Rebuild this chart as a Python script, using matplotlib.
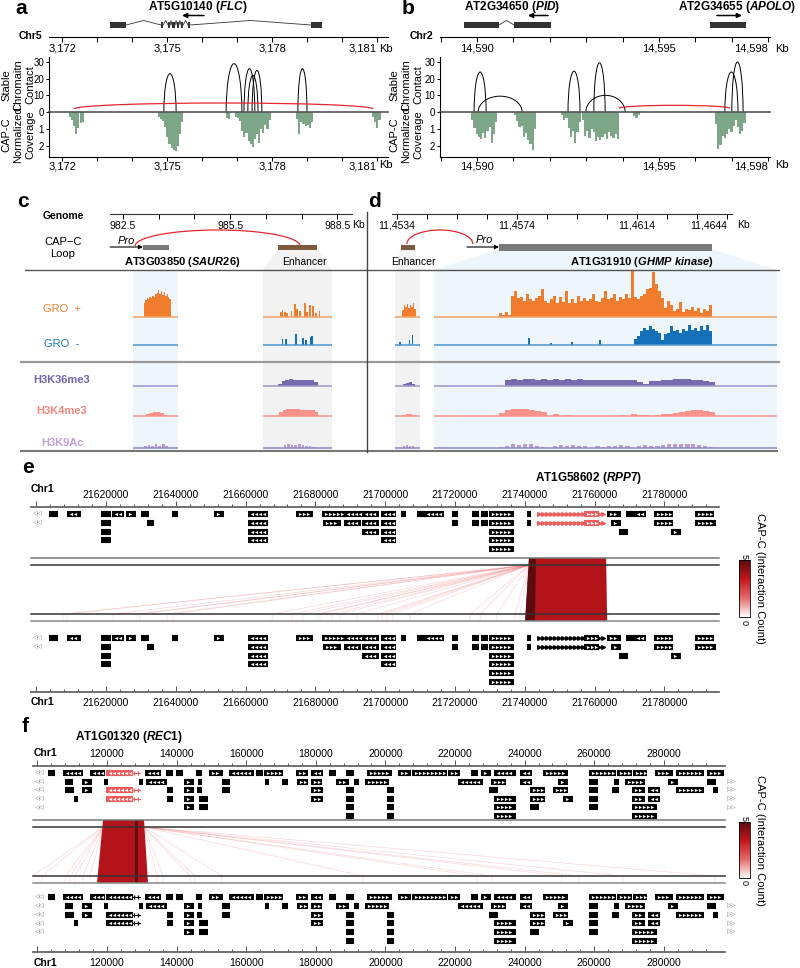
import numpy as np
import matplotlib
matplotlib.use("Agg")
import matplotlib.pyplot as plt
from matplotlib.patches import Arc, Rectangle, Polygon
from matplotlib.colors import LinearSegmentedColormap, Normalize
from matplotlib.cm import ScalarMappable

plt.rcParams['font.family'] = ['Liberation Sans', 'DejaVu Sans']
plt.rcParams['mathtext.fontset'] = 'custom'
plt.rcParams['mathtext.it'] = 'Liberation Sans:italic:bold'
plt.rcParams['mathtext.rm'] = 'Liberation Sans:bold'

# ------------------------------------------------------------------ data
# panel a : FLC locus, Chr5 (kb)
a_ticks = [3172, 3173, 3174, 3175, 3176, 3177, 3178, 3179, 3180, 3181]
a_labels = {3172: '3,172', 3175: '3,175', 3178: '3,178', 3181: '3,181'}
a_exons = [[(3173.37, 3173.83), (3174.83, 3174.89), (3175.03, 3175.09), (3175.14, 3175.23),
            (3175.29, 3175.34), (3175.40, 3175.46), (3175.60, 3175.66), (3179.11, 3179.43)]]
a_arrows = [(3176.06, 3175.43)]
a_arcs = [(3174.91, 3175.26, 23), (3176.69, 3177.14, 29), (3177.20, 3177.51, 26),
          (3177.31, 3177.60, 22), (3177.43, 3177.71, 25), (3178.74, 3179.00, 26)]
a_loop = (3172.34, 3180.89, 1.8, 3.6)
a_cov = [(3172.20, [0.3, 0.45, 0.8, 1.3, 0.95, 0.65, 0.6]),
         (3174.74, [0.3, 0.4, 0.55, 0.9, 1.5, 1.9, 2.1, 2.25, 2.3, 2.0, 1.3, 0.6]),
         (3176.69, [0.35, 0.4]),
         (3176.94, [0.3, 0.35, 0.55, 1.1, 1.45, 1.25, 1.7, 1.9, 2.05, 1.6, 1.3, 1.85, 1.0, 1.25, 0.75, 1.0, 0.5]),
         (3178.69, [0.4, 1.3, 0.6, 0.7, 0.8, 0.75, 0.95, 0.6]),
         (3180.86, [0.3, 0.6, 0.95, 0.45])]

# panel b : PID / APOLO, Chr2 (kb)
b_ticks = [14589, 14590, 14591, 14592, 14593, 14594, 14595, 14596, 14597, 14598]
b_labels = {14590: '14,590', 14595: '14,595', 14598: '14,598'}
b_exons = [[(14589.64, 14590.60), (14591.02, 14592.03)], [(14596.40, 14597.39)]]
b_arrows = [(14591.95, 14591.40), (14596.59, 14597.28)]
b_arcs = [(14589.92, 14590.25, 24), (14590.03, 14591.24, 9.5), (14592.50, 14592.83, 24.5),
          (14593.21, 14593.52, 29.5), (14592.99, 14594.07, 10), (14596.81, 14597.17, 24),
          (14597.00, 14597.31, 30)]
b_loop = (14593.90, 14596.95, 2.2, 1.8)
b_cov = [(14589.84, [0.45, 0.95, 1.3, 1.5, 1.6, 1.25, 1.55, 1.1, 0.9, 1.8, 1.3, 0.6]),
         (14591.02, [0.2, 0.55, 0.9, 0.8, 1.5, 1.25, 1.65, 1.9, 2.25, 1.0]),
         (14592.31, [0.15, 0.5, 0.35, 0.95, 1.45, 1.1, 1.85, 1.2, 0.6]),
         (14592.88, [0.5, 1.4, 1.1, 1.55, 1.0, 1.2, 1.7, 1.45, 1.65, 1.5, 1.3, 1.6, 1.2, 1.4, 1.55, 1.3, 1.6]),
         (14594.29, [0.25, 0.35, 0.2]),
         (14596.54, [0.7, 2.2, 1.95, 1.4, 1.55, 1.3, 1.0, 1.2, 0.8, 0.5, 0.9, 1.3, 1.1, 0.65])]

# panel c : SAUR26 (kb)
c_ticks = [982.5, 983.5, 984.5, 985.5, 986.5, 987.5, 988.5]
c_labels = {982.5: '982.5', 985.5: '985.5', 988.5: '988.5'}
c_gene = (983.06, 983.79)
c_enh = (986.84, 987.93)
c_pro = 982.14
c_loop = (982.84, 987.46)
c_shade_gene = (982.78, 984.04)
c_shade_enh = (986.42, 988.35)
c_gro_plus = [(983.08, 0.04, [0.30, 0.36, 0.40, 0.38, 0.42, 0.40, 0.45, 0.43, 0.48, 0.52,
                              0.58, 0.50, 0.55, 0.47, 0.53, 0.45, 0.50, 0.42, 0.38])]
c_gro_plus_pos = [986.92, 986.97, 987.04, 987.10, 987.22, 987.32, 987.37, 987.46, 987.60,
                  987.65, 987.74, 987.83, 987.91, 988.00]
c_gro_plus_val = [0.11, 0.15, 0.11, 0.09, 0.13, 0.28, 0.17, 0.13, 0.30, 0.11, 0.26, 0.23, 0.09, 0.13]
c_gro_minus_pos = [986.97, 987.06, 987.34, 987.55, 987.62, 987.75, 987.80]
c_gro_minus_val = [0.24, 0.24, 0.43, 0.28, 0.20, 0.32, 0.36]
c_k36 = [(986.85, 0.1, [0.12, 0.25, 0.30, 0.33, 0.32, 0.30, 0.29, 0.30, 0.32, 0.30, 0.20])]
c_k4 = [(983.14, 0.1, [0.12, 0.16, 0.18, 0.18, 0.16, 0.06]),
        (986.87, 0.1, [0.20, 0.30, 0.33, 0.36, 0.35, 0.33, 0.31, 0.30, 0.29, 0.28, 0.22])]
c_k9 = [(983.09, 0.1, [0.08, 0.14, 0.12, 0.20, 0.10, 0.18, 0.12]),
        (987.00, 0.1, [0.14, 0.18, 0.16, 0.14, 0.18, 0.15, 0.08, 0.10, 0.05])]

# panel d : GHMP kinase (kb)
d_ticks = [11453.4, 11454.4, 11455.4, 11456.4, 11457.4, 11458.4, 11459.4, 11460.4,
           11461.4, 11462.4, 11463.4, 11464.4]
d_labels = {11453.4: '11,4534', 11457.4: '11,4574', 11461.4: '11,4614', 11464.4: '11,4644'}
d_gene = (11456.80, 11463.90)
d_enh = (11453.53, 11454.00)
d_pro = 11455.73
d_loop = (11453.73, 11455.93)
d_shade_enh = (11453.33, 11454.17)
d_shade_gene = (11454.63, 11466.07)
d_gro_plus = [(11453.57, 0.05, [0.15, 0.25, 0.22, 0.28, 0.20, 0.26, 0.22, 0.30, 0.18]),
              (11456.80, 0.1, [0.08, 0.05, 0.10, 0.05, 0.45, 0.55, 0.40, 0.42, 0.35, 0.50,
                               0.38, 0.33, 0.40, 0.45, 0.60, 0.35, 0.30, 0.38, 0.45, 0.30,
                               0.42, 0.32, 0.55, 0.30, 0.38, 0.30, 0.45, 0.35, 0.40, 0.33,
                               0.38, 0.50, 0.35, 0.32, 0.40, 0.55, 0.38, 0.40, 0.50, 0.35,
                               0.42, 0.38, 0.50, 0.40, 1.00, 0.42, 0.38, 0.45, 0.50, 0.60,
                               0.62, 0.95, 0.70, 0.55, 0.40, 0.20, 0.35, 0.25, 0.12, 0.18,
                               0.32, 0.10, 0.18, 0.15, 0.22, 0.12, 0.20, 0.08, 0.18, 0.12, 0.25])]
d_gro_minus_pos = [11453.50, 11453.81, 11453.91, 11457.80, 11458.53, 11459.23, 11460.17]
d_gro_minus_val = [0.13, 0.20, 0.42, 0.28, 0.10, 0.13, 0.20]
d_gro_minus = [(11461.30, 0.1, [0.25, 0.35, 0.55, 0.70, 0.60, 0.78, 0.65, 0.55, 0.50, 0.20,
                                0.45, 0.50, 0.75, 0.55, 0.60, 0.50, 0.65, 0.55, 0.80, 0.60,
                                0.70, 0.55, 0.75, 0.60, 0.80, 0.55])]
d_k36 = [(11453.60, 0.1, [0.10, 0.15, 0.18, 0.12]),
         (11457.00, 0.2, [0.28, 0.33, 0.32, 0.35, 0.33, 0.31, 0.34, 0.32, 0.33, 0.31, 0.33, 0.32,
                          0.34, 0.31, 0.32, 0.30, 0.32, 0.31, 0.30, 0.28, 0.30, 0.29, 0.22, 0.12,
                          0.25, 0.27, 0.30, 0.32, 0.33, 0.35, 0.34, 0.32, 0.30, 0.27, 0.20])]
d_k4 = [(11453.60, 0.1, [0.06, 0.08, 0.10, 0.07]),
        (11456.80, 0.2, [0.15, 0.28, 0.33, 0.35, 0.33, 0.30, 0.25, 0.18, 0.0, 0.08, 0.0, 0.06,
                         0.0, 0.0, 0.0, 0.0, 0.0, 0.0, 0.0, 0.0, 0.06, 0.0, 0.08, 0.06, 0.05, 0.0,
                         0.05, 0.08, 0.12, 0.15, 0.20, 0.25, 0.28, 0.30, 0.27, 0.22])]
d_k9 = [(11453.60, 0.1, [0.10, 0.15, 0.12, 0.08]),
        (11456.80, 0.2, [0.05, 0.12, 0.18, 0.15, 0.20, 0.22, 0.12, 0.05, 0.0, 0.12, 0.16, 0.10,
                         0.14, 0.10, 0.12, 0.0, 0.08, 0.05, 0.10, 0.12, 0.15, 0.08, 0.0, 0.12,
                         0.14, 0.10, 0.12, 0.16, 0.18, 0.20, 0.19, 0.22, 0.20, 0.15, 0.12, 0.06])]

# panel e : RPP7, Chr1 (kb)
e_rows = [
    [(21604.0, 21606.0, 1), (21609.1, 21612.6, -1), (21618.9, 21621.1, -1), (21622.0, 21624.9, -1),
     (21626.0, 21628.3, 1), (21630.3, 21632.0, 1), (21639.2, 21640.3, 1), (21651.2, 21653.5, 1),
     (21661.0, 21666.1, -1), (21674.7, 21679.0, 1), (21682.2, 21688.5, 1), (21688.5, 21693.4, -1),
     (21693.6, 21697.9, -1), (21699.1, 21702.8, -1), (21704.8, 21705.7, 1), (21709.4, 21710.8, -1),
     (21711.4, 21716.6, -1), (21719.4, 21720.6, 1), (21725.2, 21726.6, 1), (21727.7, 21729.2, 1),
     (21730.0, 21736.6, 1), (21740.9, 21741.5, 1), (21763.8, 21767.3, 1), (21769.3, 21771.0, -1),
     (21771.6, 21774.4, -1), (21777.3, 21782.2, 1), (21789.1, 21793.9, 1)],
    [(21618.9, 21621.1, -1), (21632.0, 21633.5, 1), (21661.0, 21666.1, -1), (21682.5, 21687.0, 1),
     (21688.5, 21692.8, -1), (21693.6, 21697.9, -1), (21699.1, 21702.8, -1), (21719.4, 21720.6, 1),
     (21725.2, 21726.6, 1), (21727.7, 21729.2, 1), (21730.0, 21736.6, 1), (21740.9, 21741.5, 1),
     (21765.0, 21767.3, 1), (21777.3, 21782.2, 1), (21789.1, 21794.5, 1)],
    [(21618.9, 21621.1, -1), (21661.0, 21666.1, -1), (21693.6, 21697.9, -1), (21699.1, 21702.8, -1),
     (21730.0, 21736.6, 1), (21767.3, 21769.3, 1), (21782.2, 21784.5, 1)],
    [(21618.9, 21621.1, -1), (21661.0, 21666.1, -1), (21699.1, 21702.8, -1), (21730.0, 21736.6, 1)],
    [(21730.0, 21736.6, 1)],
]
e_extra_row = [(21730.0, 21736.6, 1)]
e_hl = ((21743.5, 21763.0), (21757.2, 21761.0), 1)
e_hl_rows = [0, 1]
e_majors = [21600, 21620, 21640, 21660, 21680, 21700, 21720, 21740, 21760, 21780]
e_block = ((21741.2, 21763.3), (21740.1, 21763.6), (21741.2, 21743.2), (21740.1, 21742.9))
e_fan = [(21741.2, [21607.7, 21608.8, 21622.0, 21628.9, 21629.7, 21637.5, 21639.2, 21667.6,
                    21673.3, 21676.4, 21680.5, 21681.3, 21684.8, 21687.0, 21691.9, 21697.9,
                    21699.1, 21700.5, 21702.2, 21707.1, 21724.3, 21727.2, 21732.0, 21737.2, 21738.6])]

# panel f : REC1, Chr1 (kb)
f_rows = [
    [(103.3, 104.8, 1), (107.6, 112.8, -1), (115.4, 119.1, -1), (131.2, 135.2, -1), (137.2, 138.7, 1),
     (140.1, 141.6, 1), (145.9, 147.0, 1), (149.6, 153.0, 1), (155.3, 162.0, -1), (163.1, 164.5, -1),
     (165.4, 170.3, 1), (174.6, 177.5, 1), (178.9, 181.8, -1), (184.1, 185.5, 1), (189.0, 190.7, 1),
     (195.0, 201.6, 1), (203.9, 207.1, 1), (207.9, 217.4, 1), (218.3, 221.1, 1), (224.9, 226.3, 1),
     (227.8, 230.1, 1), (231.5, 237.2, -1), (239.0, 241.8, -1), (245.6, 252.2, 1), (258.8, 266.0, 1),
     (266.8, 270.6, 1), (271.4, 274.9, 1), (277.8, 282.4, 1), (283.8, 291.3, 1), (292.7, 297.0, 1)],
    [(108.2, 109.9, 1), (113.1, 115.4, 1), (119.4, 120.0, 1), (129.5, 130.1, 1), (131.5, 137.0, -1),
     (142.4, 144.7, 1), (146.4, 147.0, 1), (153.3, 155.1, -1), (165.7, 166.3, 1), (170.6, 171.7, 1),
     (174.9, 177.5, 1), (178.9, 181.5, 1), (186.1, 189.3, 1), (191.3, 192.1, 1), (194.4, 200.7, 1),
     (221.1, 227.8, -1), (230.6, 234.4, 1), (239.0, 241.8, -1), (249.9, 252.2, 1), (258.8, 260.8, -1),
     (266.0, 266.8, 1), (269.1, 274.3, 1), (281.5, 283.8, 1), (292.7, 294.7, 1)],
    [(108.2, 110.2, 1), (113.1, 115.4, 1), (137.5, 138.7, 1), (142.4, 144.7, 1), (146.1, 147.0, 1),
     (153.3, 155.1, -1), (178.9, 181.8, 1), (189.0, 190.7, 1), (200.7, 202.2, 1), (230.1, 232.1, 1),
     (241.8, 245.6, 1), (248.4, 252.2, 1), (258.8, 260.8, -1), (265.4, 266.8, 1), (271.1, 274.3, 1),
     (275.7, 278.6, -1), (283.8, 291.3, 1), (294.4, 295.3, 1)],
    [(110.8, 111.4, 1), (137.5, 138.7, 1), (142.4, 144.7, 1), (146.7, 148.7, -1), (178.9, 181.8, 1),
     (189.0, 190.7, 1), (200.7, 202.2, 1), (231.5, 237.2, 1), (241.8, 245.6, 1), (251.3, 253.6, 1),
     (258.8, 260.8, -1), (271.1, 274.3, 1), (275.7, 278.6, -1)],
    [(142.4, 144.7, 1), (146.7, 148.7, -1), (189.0, 190.7, 1), (200.7, 202.2, 1), (231.5, 237.2, 1),
     (241.8, 243.9, 1), (258.8, 260.8, -1), (271.1, 277.8, 1)],
    [(189.0, 190.7, 1), (200.7, 202.2, 1), (231.5, 237.2, 1), (271.1, 277.8, 1)],
]
f_hl = ((127.2, 129.5), (120.0, 127.2), -1)
f_hl_rows = [0, 2, 3]
f_majors = [100, 120, 140, 160, 180, 200, 220, 240, 260, 280]
f_block = ((118.85, 130.63), (117.13, 131.78), (128.05, 128.91), (128.05, 128.91))
f_fan = [(118.9, [98.7, 101.3, 107.9, 109.4, 110.8, 113.1, 115.1]),
         (130.6, [134.4, 136.1, 143.9, 145.3, 153.0, 193.6, 226.3, 230.6, 250.7, 255.6, 268.3, 294.7])]

# ------------------------------------------------------------------ layout helpers
W, H = 800, 968
fig = plt.figure(figsize=(W / 100, H / 100), dpi=100)
GREEN = '#7da588'
RED = '#e8262c'


def add_ax(x0, y0, x1, y1):
    ax = fig.add_axes([x0 / W, 1 - y1 / H, (x1 - x0) / W, (y1 - y0) / H])
    ax.patch.set_alpha(0)
    return ax


def kb_lim(px0, px1, ref_px, ref_kb, ppk):
    return (ref_kb + (px0 - ref_px) / ppk, ref_kb + (px1 - ref_px) / ppk)


def only_spines(ax, keep=()):
    for name, sp in ax.spines.items():
        sp.set_visible(name in keep)


def set_kb_ticks(ax, ticks, labels, size, last_right):
    ax.set_xticks(ticks)
    ax.set_xticklabels([labels.get(t, '') for t in ticks], fontsize=size)
    if last_right:
        ax.get_xticklabels()[-1].set_ha('right')


# ------------------------------------------------------------------ panels a / b
def contact_panel(x0, x1, xlim, ticks, labels, exon_groups, arrows, arcs, loop, cov):
    gm = add_ax(x0, 0, x1, 30)
    gm.set_xlim(xlim)
    gm.set_ylim(30, 0)
    gm.axis('off')
    for exons in exon_groups:
        for s, e in exons:
            gm.add_patch(Rectangle((s, 22.3), e - s, 5.5, color='#333333', lw=0))
        for (s0, e0), (s1, e1) in zip(exons[:-1], exons[1:]):
            gm.plot([e0, (e0 + s1) / 2, s1], [25, 20.5, 25], color='#333333', lw=0.6)
    for xs, xe in arrows:
        gm.annotate('', xy=(xe, 15.5), xytext=(xs, 15.5),
                    arrowprops=dict(arrowstyle='-|>', color='k', lw=1.1,
                                    mutation_scale=7, shrinkA=0, shrinkB=0))

    g = add_ax(x0, 30, x1, 37)
    g.set_xlim(xlim)
    g.set_yticks([])
    only_spines(g, ('bottom',))
    set_kb_ticks(g, ticks, labels, 8, True)
    g.tick_params(axis='x', length=3.5, width=0.7, pad=1.5)

    c = add_ax(x0, 57, x1, 112)
    c.set_xlim(xlim)
    c.set_ylim(0, 33)
    only_spines(c, ('left',))
    c.set_xticks([])
    c.set_yticks([0, 10, 20, 30])
    c.tick_params(axis='y', labelsize=7, length=2.5, width=0.7, pad=1)
    for s, e, h in arcs:
        c.add_patch(Arc(((s + e) / 2, 0), e - s, 2 * h, theta1=0, theta2=180,
                        color='k', lw=0.7))
    s, e, base, rise = loop
    c.add_patch(Arc(((s + e) / 2, base), e - s, 2 * rise, theta1=0, theta2=180,
                    color=RED, lw=0.9))

    v = add_ax(x0, 112, x1, 157)
    v.set_xlim(xlim)
    v.set_ylim(2.65, 0)
    only_spines(v, ('left', 'bottom'))
    v.set_yticks([1, 2])
    v.tick_params(axis='y', labelsize=7, length=2.5, width=0.7, pad=1)
    for start, vals in cov:
        v.bar(start + 0.06 * np.arange(len(vals)), vals, width=0.06, align='edge',
              color=GREEN, lw=0)
    v.axhline(0, color='#555555', lw=1.2, clip_on=False)
    set_kb_ticks(v, ticks, labels, 8, True)
    v.tick_params(axis='x', length=3, width=0.7, pad=0.5)


contact_panel(49, 388, kb_lim(49, 388, 167, 3175, 35), a_ticks, a_labels, a_exons,
              a_arrows, a_arcs, a_loop, a_cov)
contact_panel(440, 770, kb_lim(440, 770, 477, 14590, 36.4), b_ticks, b_labels, b_exons,
              b_arrows, b_arcs, b_loop, b_cov)

# ------------------------------------------------------------------ panels c / d
TRACKS = [(270, 317, '#ef7d2d', '#f3a066'),
          (320, 345, '#1470b8', '#4b95cf'),
          (366, 386, '#776bb0', '#9d95cc'),
          (396, 416, '#f8928b', '#f8928b'),
          (428, 448, '#b99bd0', '#8f88c4')]
BLUE_BG = '#eef5fb'
GRAY_BG = '#f2f2f2'


def cd_panel(gx0, gx1, tx1, lim, ticks, labels, last_right, gene, gene_h, enh, pro, loop,
             loop_base, shades, traps, tracks):
    g = add_ax(gx0, 207, gx1, 214)
    g.set_xlim(lim(gx0, gx1))
    g.set_yticks([])
    only_spines(g, ('bottom',))
    g.spines['bottom'].set_color('#333333')
    set_kb_ticks(g, ticks, labels, 7.5, last_right)
    g.tick_params(axis='x', length=3.8, width=0.7, pad=1)

    tl = lim(gx0, tx1)
    lp = add_ax(gx0, 226, tx1, 270)
    lp.set_xlim(tl)
    lp.set_ylim(270, 226)
    lp.axis('off')
    for (s0, e0), (s1, e1), col in traps:
        lp.add_patch(Polygon([(s0, 249), (e0, 249), (e1, 270), (s1, 270)], color=col, lw=0, zorder=0))
    lp.add_patch(Rectangle((gene[0], 247 - gene_h / 2), gene[1] - gene[0], gene_h,
                           color='#7a7a7a', lw=0))
    lp.add_patch(Rectangle((enh[0], 244.5), enh[1] - enh[0], 5, color='#7d5a3c', lw=0))
    lp.annotate('', xy=(gene[0], 247), xytext=(pro, 247),
                arrowprops=dict(arrowstyle='-|>', color='k', lw=0.8, mutation_scale=6,
                                shrinkA=0, shrinkB=0))
    lp.add_patch(Arc(((loop[0] + loop[1]) / 2, loop_base), loop[1] - loop[0],
                     2 * (loop_base - 230), theta1=180, theta2=360, color=RED, lw=0.9))

    bg = add_ax(gx0, 270, tx1, 451)
    bg.set_xlim(tl)
    bg.axis('off')
    for (s, e), col in shades:
        bg.axvspan(s, e, color=col, lw=0)

    for (yt, yb, col, bcol), (segs, spikes) in zip(TRACKS, tracks):
        ax = add_ax(gx0, yt, tx1, yb)
        ax.set_xlim(tl)
        ax.set_ylim(0, 1)
        ax.axis('off')
        for (s, e), _ in shades:
            ax.plot([s, e], [0, 0], color=bcol, lw=1.1, clip_on=False, solid_capstyle='butt')
        for start, binw, vals in segs:
            frac = 0.75 if col == '#b99bd0' else 1.0
            ax.bar(start + binw * np.arange(len(vals)), vals, width=binw * frac,
                   align='edge', color=col, lw=0)
        if spikes is not None:
            ax.bar(spikes[0], spikes[1], width=0.045, color=col, lw=0)


c_lim = lambda p0, p1: kb_lim(p0, p1, 123, 982.5, 35.7)
cd_panel(110, 352, 352, c_lim, c_ticks, c_labels, False, c_gene, 5, c_enh, c_pro, c_loop, 246,
         [(c_shade_gene, BLUE_BG), (c_shade_enh, GRAY_BG)],
         [(c_enh, c_shade_enh, GRAY_BG)],
         [(c_gro_plus, (c_gro_plus_pos, c_gro_plus_val)),
          ([], (c_gro_minus_pos, c_gro_minus_val)),
          (c_k36, None), (c_k4, None), (c_k9, None)])

d_lim = lambda p0, p1: kb_lim(p0, p1, 397, 11453.4, 30)
cd_panel(392, 732, 780, d_lim, d_ticks, d_labels, True, d_gene, 7, d_enh, d_pro, d_loop, 244,
         [(d_shade_enh, GRAY_BG), (d_shade_gene, BLUE_BG)],
         [(d_enh, d_shade_enh, GRAY_BG), (d_gene, d_shade_gene, BLUE_BG)],
         [(d_gro_plus, None),
          (d_gro_minus, (d_gro_minus_pos, d_gro_minus_val)),
          (d_k36, None), (d_k4, None), (d_k9, None)])

# ------------------------------------------------------------------ panels e / f
cap_cmap = LinearSegmentedColormap.from_list('capc', ['#ffffff', '#e46a6a', '#c1161c', '#5a0c0c'])


def chr_axis(x0, x1, y_line, lim, majors, above):
    g = add_ax(x0, y_line - 6, x1, y_line)
    g.set_xlim(lim(x0, x1))
    g.set_yticks([])
    only_spines(g, ('bottom',))
    g.spines['bottom'].set_color('#666666')
    g.spines['bottom'].set_linewidth(1.3)
    g.set_xticks(majors)
    g.set_xticklabels([''] + ['%d' % (m * 1000) for m in majors[1:]], fontsize=7.5)
    g.set_xticks(np.arange(majors[0], majors[-1] + 16, 4), minor=True)
    g.tick_params(axis='x', which='both', direction='in', color='#555555', width=0.7)
    g.tick_params(axis='x', which='major', length=4.5)
    g.tick_params(axis='x', which='minor', length=2.5)
    if above:
        g.tick_params(axis='x', which='major', labelbottom=False, labeltop=True, pad=1)
    else:
        g.tick_params(axis='x', which='major', pad=4)


def gene_rows(x0, y_first, sp, lim, rows, hl, hl_rows, hl_col, left_rows, right_rows):
    n = len(rows)
    ax = add_ax(x0, y_first - sp / 2, 735, y_first + (n - 0.5) * sp)
    xl = lim(x0, 735)
    ax.set_xlim(xl)
    ax.set_ylim(n - 0.5, -0.5)
    ax.axis('off')
    for r, genes in enumerate(rows):
        for s, e, strand in genes:
            ax.plot([s - 0.3, e + 0.3], [r, r], color='k', lw=4.4, solid_capstyle='butt')
            if e - s > 2.2:
                xs = np.arange(s + 0.8, e - 0.4, 1.15)
                ax.plot(xs, np.full(len(xs), r), ls='none', marker='<' if strand < 0 else '>',
                        ms=2.3, mfc='white', mec='white', mew=0)
    (ts, te), (ks, ke), strand = hl
    mk = '<' if strand < 0 else '>'
    for r in hl_rows:
        ax.plot([ts, te], [r, r], color=hl_col, lw=0.7)
        xs = np.arange(ts + 0.6, te, 1.15)
        ax.plot(xs, np.full(len(xs), r), ls='none', marker=mk if strand > 0 else '|',
                ms=2.6, color=hl_col)
        ax.plot([ks - 0.3, ke + 0.3], [r, r], color=hl_col, lw=4.4, solid_capstyle='butt')
        xs = np.arange(ks + 0.8, ke - 0.4, 1.15)
        ax.plot(xs, np.full(len(xs), r), ls='none', marker=mk, ms=2.3, mfc='white',
                mec='white', mew=0)
    for r in left_rows:
        ax.text(xl[0] + 0.3, r, '◁◁', fontsize=4.5, color='#777777', va='center', ha='left',
                family=['DejaVu Sans'])
    for r in right_rows:
        ax.text(lim(727, 727)[0], r, '▷▷', fontsize=4.5, color='#777777', va='center',
                ha='left', family=['DejaVu Sans'])


def interaction(x0, x1, y0, y1, lim, block, fans):
    ax = add_ax(x0, y0, x1, y1)
    ax.set_xlim(lim(x0, x1))
    ax.set_ylim(y1, y0)
    ax.axis('off')
    ya, yb = y0 + 7, y1 - 7
    for anchor, targets in fans:
        for t in targets:
            ax.plot([anchor, t, t], [ya, yb, y1], color='#f07070', lw=0.45, alpha=0.3)
    top, bot, dtop, dbot = block
    ax.add_patch(Polygon([(top[0], y0), (top[1], y0), (bot[1], y1), (bot[0], y1)],
                         color='#b3141a', lw=0))
    ax.add_patch(Polygon([(dtop[0], y0), (dtop[1], y0), (dbot[1], y1), (dbot[0], y1)],
                         color='#5c0c0e', lw=0))
    for yy, col in [(y0, '#777777'), (ya, '#333333'), (yb, '#333333'), (y1, '#888888')]:
        ax.axhline(yy, color=col, lw=1.1, clip_on=False)


def colour_bar(y0, y1):
    cax = add_ax(739, y0, 750, y1)
    cb = fig.colorbar(ScalarMappable(norm=Normalize(0, 5), cmap=cap_cmap), cax=cax, ticks=[])
    cb.outline.set_linewidth(0.6)


e_lim = lambda p0, p1: kb_lim(p0, p1, 106, 21620, 3.49)
chr_axis(31, 719, 507, e_lim, e_majors, True)
gene_rows(31, 514, 8.75, e_lim, e_rows, e_hl, e_hl_rows, '#f05b5b', [0, 1], [])
interaction(31, 719, 558, 621, e_lim, e_block, e_fan)
gene_rows(31, 638, 8.75, e_lim, e_rows + [e_extra_row], e_hl, e_hl_rows, 'k', [0, 1], [])
chr_axis(31, 719, 692, e_lim, e_majors, False)
colour_bar(560, 617)

f_lim = lambda p0, p1: kb_lim(p0, p1, 107, 120, 3.48)
chr_axis(33, 725, 766, f_lim, f_majors, True)
gene_rows(33, 773, 8.6, f_lim, f_rows, f_hl, f_hl_rows, '#f05b5b', [0, 1, 2, 3, 4], [1, 2, 3, 4])
interaction(33, 725, 820, 883, f_lim, f_block, f_fan)
gene_rows(33, 897, 8.8, f_lim, f_rows, f_hl, f_hl_rows, 'k', [0, 1, 2, 3, 4], [1, 2, 3, 4])
chr_axis(33, 725, 952, f_lim, f_majors, False)
colour_bar(822, 878)

# ------------------------------------------------------------------ overlay text / rules
ov = add_ax(0, 0, W, H)
ov.set_xlim(0, W)
ov.set_ylim(H, 0)
ov.axis('off')

for ch, x, y in [('a', 15, 14), ('b', 402, 14), ('c', 17, 207), ('d', 368, 207),
                 ('e', 22, 473), ('f', 22, 732)]:
    ov.text(x, y, ch, fontsize=15, fontweight='bold', ha='left', va='baseline')

title_kw = dict(fontsize=8.5, fontweight='bold', ha='center', va='center')
ov.text(198, 7, r'AT5G10140 ($\it{FLC}$)', **title_kw)
ov.text(512, 7, r'AT2G34650 ($\it{PID}$)', **title_kw)
ov.text(737, 7, r'AT2G34655 ($\it{APOLO}$)', **title_kw)
ov.text(182, 262, r'AT3G03850 ($\it{SAUR26}$)', fontsize=8, fontweight='bold', ha='center', va='center')
ov.text(642, 262, r'AT1G31910 ($\it{GHMP\ kinase}$)', fontsize=8, fontweight='bold', ha='center', va='center')
ov.text(589, 478, r'AT1G58602 ($\it{RPP7}$)', **title_kw)
ov.text(129, 737, r'AT1G01320 ($\it{REC1}$)', **title_kw)

for x, y, t in [(30, 36, 'Chr5'), (421, 36, 'Chr2'), (42, 489, 'Chr1'), (42, 702, 'Chr1'),
                (45, 753, 'Chr1'), (45, 963, 'Chr1')]:
    ov.text(x, y, t, fontsize=7.5, fontweight='bold', ha='center', va='center')

for x, y in [(379, 49), (379, 165), (775, 49), (775, 165), (352, 225), (737, 225)]:
    ov.text(x, y, 'Kb', fontsize=8 if y != 225 else 7.5, ha='left', va='center')

for x in (18, 406):
    ov.text(x, 85, 'Stable\nChromaitn\nContact', rotation=90, fontsize=8, ha='center',
            va='center', linespacing=1.25, multialignment='center')
    ov.text(x, 135, 'CAP-C\nNormalized\nCoverage', rotation=90, fontsize=8, ha='center',
            va='center', linespacing=1.25, multialignment='center')

ov.text(63, 216, 'Genome', fontsize=7.5, fontweight='bold', ha='center', va='center')
ov.text(63, 248, 'CAP\u2212C\nLoop', fontsize=8, ha='center', va='center', linespacing=1.3)
ov.text(126, 241, 'Pro', fontsize=8, style='italic', ha='center', va='center')
ov.text(484, 240, 'Pro', fontsize=8, style='italic', ha='center', va='center')
ov.text(304, 262, 'Enhancer', fontsize=7.5, ha='center', va='center')
ov.text(413, 262, 'Enhancer', fontsize=7.5, ha='center', va='center')

for txt, y, col, wt in [('GRO  +', 309, '#ef7d2d', 'normal'), ('GRO  -', 344, '#1a75bb', 'normal'),
                        ('H3K36me3', 380, '#6f64ad', 'bold'), ('H3K4me3', 411, '#f7877f', 'bold'),
                        ('H3K9Ac', 443, '#c19fd8', 'bold')]:
    ov.text(62, y, txt, fontsize=8, color=col, fontweight=wt, ha='center', va='center')

ov.plot([25, 779], [270, 270], color='#555555', lw=1.0)
ov.plot([21, 779], [362, 362], color='#999999', lw=1.6)
ov.plot([21, 777], [451, 451], color='#777777', lw=1.5)
ov.plot([367, 367], [212, 452], color='#444444', lw=1.0)

for y in (578, 840):
    ov.text(760, y, 'CAP-C (Interaction Count)', rotation=270, fontsize=8, ha='center', va='center')
for y0, y1 in ((560, 617), (822, 878)):
    ov.text(744.5, y0 - 4, '5', rotation=270, fontsize=6.5, ha='center', va='center')
    ov.text(744.5, y1 + 5, '0', rotation=270, fontsize=6.5, ha='center', va='center')

fig.savefig('out.png', dpi=100)
